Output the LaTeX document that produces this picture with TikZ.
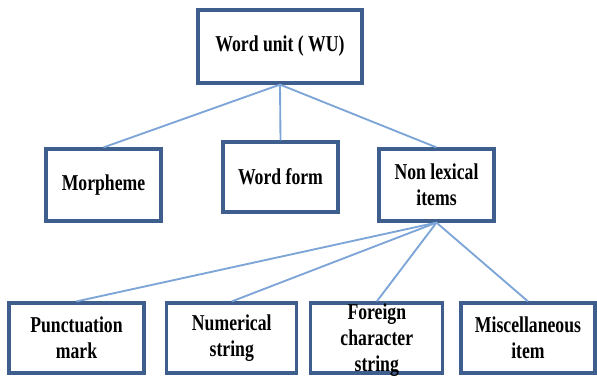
\documentclass[tikz,border=0pt]{standalone}
\usepackage{fontspec}
\setmainfont[FakeStretch=0.78]{Liberation Serif}
\definecolor{boxblue}{RGB}{62,94,142}
\definecolor{lineblue}{RGB}{125,165,215}
\begin{document}
\begin{tikzpicture}[x=0.75pt,y=-0.75pt,
  lbl/.style={align=center,inner sep=0pt,font=\fontsize{17}{19.5}\selectfont\bfseries},
  box/.style={lbl,draw=boxblue,line width=2.4pt,fill=white},
  link/.style={draw=lineblue,line width=1.4pt}]
\useasboundingbox (0,0) rectangle (597,376);
\node[box,minimum width=164*0.75pt,minimum height=73*0.75pt] (wu) at (280,46.5) {Word unit ( WU)};
\node[box,minimum width=115*0.75pt,minimum height=72*0.75pt] (morph) at (103.5,185) {Morpheme};
\node[box,minimum width=115*0.75pt,minimum height=70*0.75pt] (wform) at (280.5,177) {Word form};
\node[box,minimum width=115*0.75pt,minimum height=72*0.75pt] (nonlex) at (436.5,185) {Non lexical\\items};
\node[box,minimum width=135*0.75pt,minimum height=70*0.75pt] (punct) at (76.5,338) {Punctuation\\mark};
\node[box,minimum width=130*0.75pt,minimum height=70*0.75pt] (numer) at (231.75,338) {Numerical\\string};
\node[box,minimum width=132*0.75pt,minimum height=70*0.75pt] (foreign) at (376.8,338) {};
\node[box,minimum width=134*0.75pt,minimum height=70*0.75pt] (misc) at (528,338) {Miscellaneous\\item};
\node[lbl] (foreigntext) at (376.8,340) {Foreign\\character\\string};
\draw[link] (wu.south) -- (morph.north);
\draw[link] (wu.south) -- (wform.north);
\draw[link] (wu.south) -- (nonlex.north);
\draw[link] (nonlex.south) -- (punct.north);
\draw[link] (nonlex.south) -- (numer.north);
\draw[link] (nonlex.south) -- (foreign.north);
\draw[link] (nonlex.south) -- (misc.north);
\end{tikzpicture}
\end{document}
